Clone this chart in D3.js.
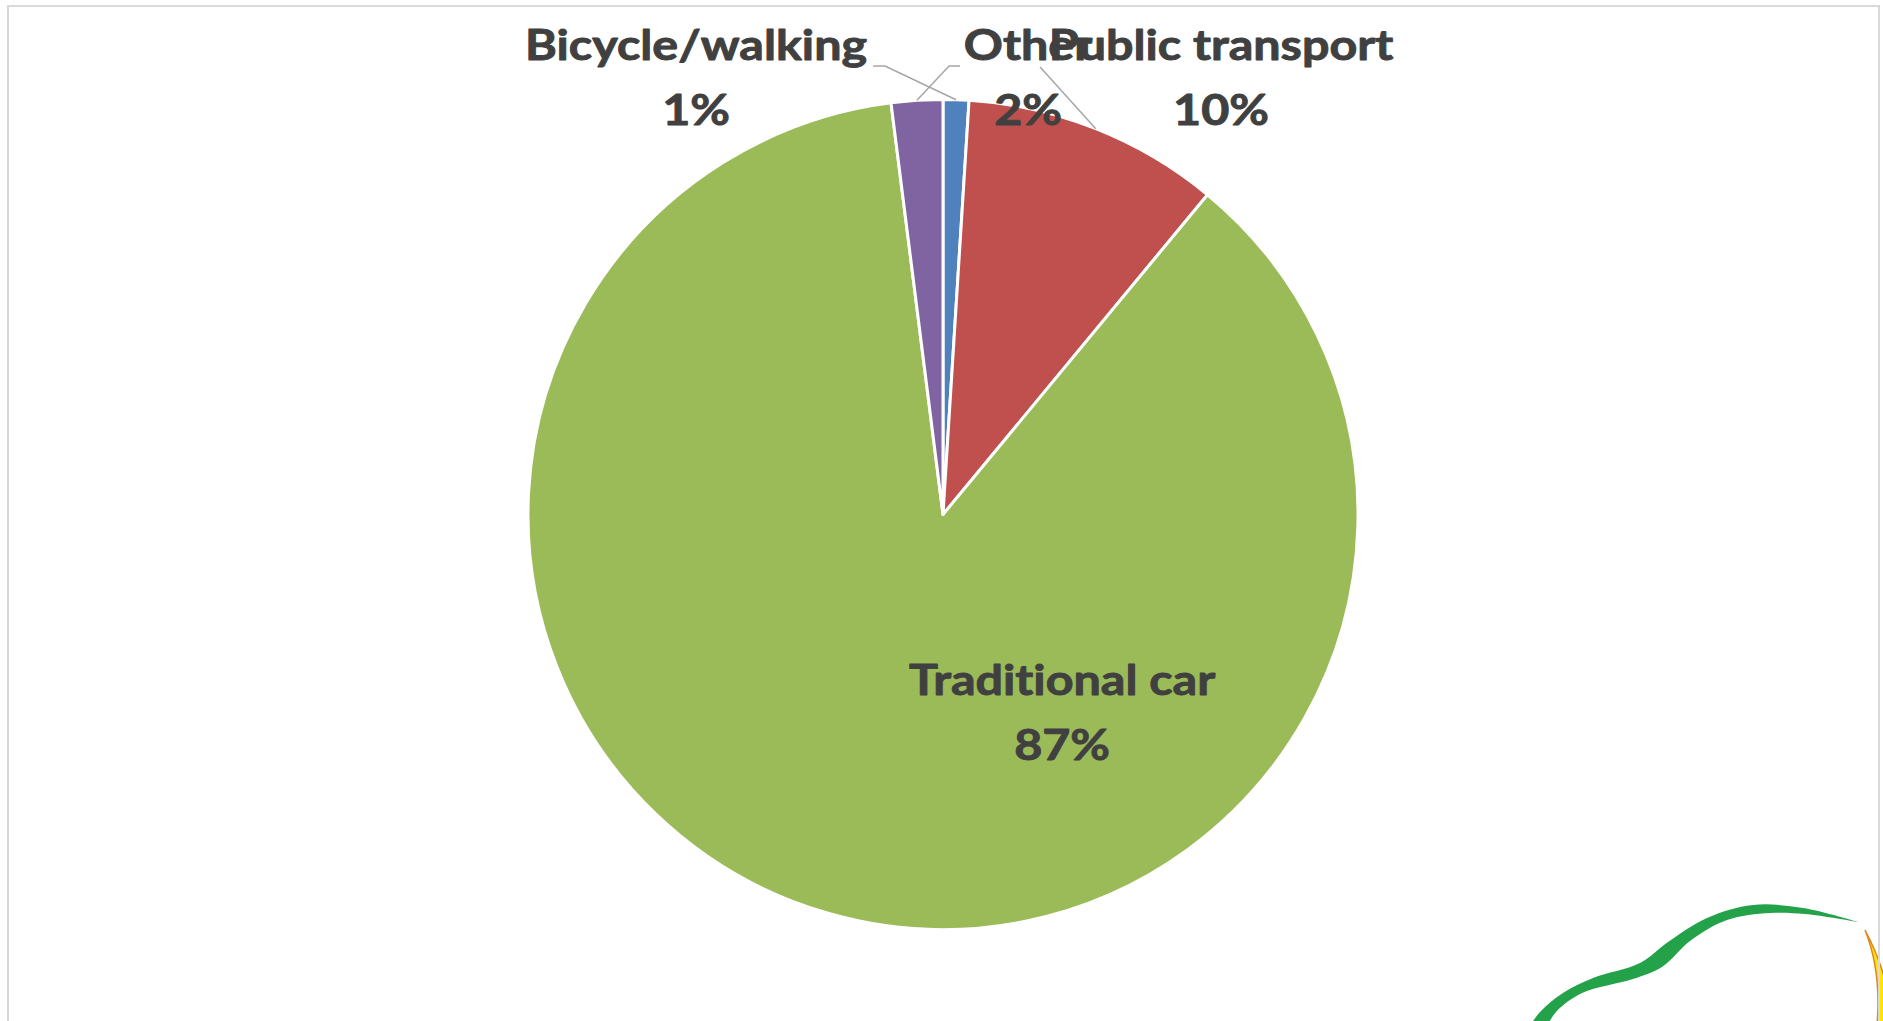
<!DOCTYPE html>
<html>
<head>
<meta charset="utf-8">
<script src="https://cdn.jsdelivr.net/npm/d3@7"></script>
<style>
  html, body { margin: 0; padding: 0; background: #fff; }
  svg { display: block; }
  text { font-variant-ligatures: none; font-feature-settings: "liga" 0, "clig" 0; }
</style>
</head>
<body>
<svg id="chart" width="1883" height="1021"></svg>
<script>
// ---- data ----
const categories = ["Bicycle/walking", "Public transport", "Traditional car", "Other"];
const values = [1, 10, 87, 2];
const percentLabels = ["1%", "10%", "87%", "2%"];
const colors = ["#4F81BD", "#C0504D", "#9BBB59", "#8064A2"];

// ---- layout ----
const W = 1883, H = 1021;
const cx = 943, cy = 514.5, R = 415;
const fontFamily = "Lato, 'Open Sans', sans-serif";
const fontSize = 42;
const lineGap = 65;
const refWidth = 342; // width of "Bicycle/walking" in the reference typeface

// label anchor (center x, first baseline y) in units of radius, plus leader start points
const labelLayout = [
  { dx: -0.595, dy: -1.095, leader: [[177, 6], [189, 6]] },   // Bicycle/walking
  { dx: 0.670,  dy: -1.095, leader: [[-181, 7]] },            // Public transport
  { dx: 0.287,  dy: 0.436,  leader: null },                   // Traditional car
  { dx: 0.205,  dy: -1.095, leader: [[-68, 6], [-79, 6]] }    // Other
];

const svg = d3.select("#chart");

const pie = d3.pie().sort(null).value(d => d.value).startAngle(0).endAngle(2 * Math.PI);
const data = categories.map((c, i) => ({ name: c, value: values[i], pct: percentLabels[i], color: colors[i], layout: labelLayout[i] }));
const arcs = pie(data);
const arc = d3.arc().innerRadius(0).outerRadius(R);

const g = svg.append("g").attr("transform", `translate(${cx},${cy})`);

g.selectAll("path.slice")
  .data(arcs)
  .join("path")
  .attr("class", "slice")
  .attr("d", arc)
  .attr("fill", d => d.data.color)
  .attr("stroke", "#fff")
  .attr("stroke-width", 3)
  .attr("stroke-linejoin", "round");

// leader lines
const edgePoint = d => {
  const a = (d.startAngle + d.endAngle) / 2;
  return [R * Math.sin(a), -R * Math.cos(a)];
};
g.selectAll("polyline.leader")
  .data(arcs.filter(d => d.data.layout.leader))
  .join("polyline")
  .attr("class", "leader")
  .attr("points", d => {
    const L = d.data.layout;
    const ax = L.dx * R, ay = L.dy * R;
    const pts = L.leader.map(p => [ax + p[0], ay + p[1]]);
    pts.push(edgePoint(d));
    return pts.map(p => p.join(",")).join(" ");
  })
  .attr("fill", "none")
  .attr("stroke", "#A6A6A6")
  .attr("stroke-width", 1.5);

// labels
const labels = g.selectAll("text.lbl")
  .data(arcs)
  .join("text")
  .attr("class", "lbl")
  .attr("text-anchor", "middle")
  .attr("font-family", fontFamily)
  .attr("font-weight", "bold")
  .attr("font-size", fontSize)
  .attr("fill", "#404040")
  .attr("stroke", "#404040")
  .attr("stroke-width", 0.9)
  .attr("stroke-linejoin", "round");

labels.append("tspan")
  .attr("class", "l1")
  .attr("x", d => d.data.layout.dx * R)
  .attr("y", d => d.data.layout.dy * R)
  .text(d => d.data.name);
labels.append("tspan")
  .attr("class", "l2")
  .attr("x", d => d.data.layout.dx * R)
  .attr("y", d => d.data.layout.dy * R + lineGap)
  .text(d => d.data.pct);

// horizontal scale to mimic the narrower original typeface
const refNode = labels.filter(d => d.data.name === "Bicycle/walking").select("tspan.l1").node();
const k = refWidth / refNode.getComputedTextLength();
labels.selectAll("tspan").each(function () {
  const w = this.getComputedTextLength();
  d3.select(this).attr("textLength", w * k).attr("lengthAdjust", "spacingAndGlyphs");
});

// decorative logo fragment in the bottom right corner
const swooshTop = [[1526,1032],[1540,1012],[1563,993],[1593,978],[1640,963],[1668,942],[1707,918],[1753,905],[1803,908],[1858,922]];
const swooshBottom = [[1858,922],[1805,914],[1770,913],[1727,920],[1690,941],[1662,967],[1633,979],[1582,993],[1556,1012],[1544,1032]];
svg.append("path")
  .attr("d", d3.line().curve(d3.curveCatmullRom)(swooshTop) + "L" + d3.line().curve(d3.curveCatmullRom)(swooshBottom).slice(1) + "Z")
  .attr("fill", "#23A24A");
svg.append("path")
  .attr("d", "M1865,930 C1873,945 1881,962 1887,988 L1887,1025 L1877,1025 C1880,990 1877,960 1865,930 Z")
  .attr("fill", "#FFE400")
  .attr("stroke", "#E0861F")
  .attr("stroke-width", 1.5);

// chart area border
svg.append("rect")
  .attr("x", 8).attr("y", 6)
  .attr("width", 1871).attr("height", 1030)
  .attr("fill", "none")
  .attr("stroke", "#D9D9D9")
  .attr("stroke-width", 2);
</script>
</body>
</html>
